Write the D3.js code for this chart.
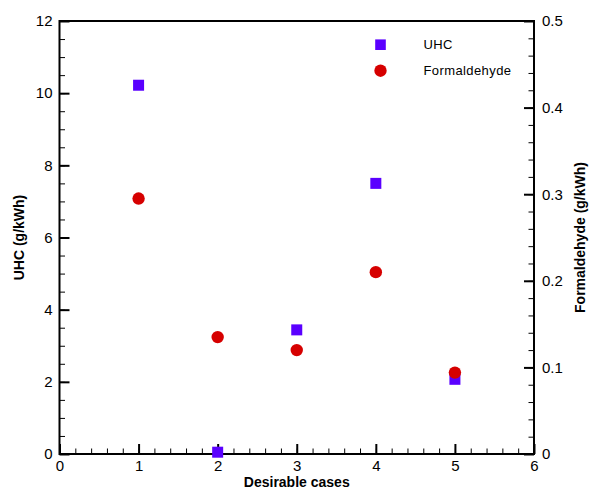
<!DOCTYPE html>
<html>
<head>
<meta charset="utf-8">
<script src="https://cdn.jsdelivr.net/npm/d3@7"></script>
<style>
  body { margin: 0; background: #fff; }
  svg { display: block; font-family: Arial, "Liberation Sans", sans-serif; }
</style>
</head>
<body>
<div id="my_dataviz"></div>
<script>
// data
var cases = [1, 2, 3, 4, 5];
var uhc = [10.22, 0.05, 3.44, 7.50, 2.07];            // g/kWh, left axis
var formaldehyde = [0.295, 0.135, 0.120, 0.210, 0.094]; // g/kWh, right axis
var xTicks = [0, 1, 2, 3, 4, 5, 6];
var yLeftTicks = [0, 2, 4, 6, 8, 10, 12];
var yRightTicks = [0, 0.1, 0.2, 0.3, 0.4, 0.5];

var W = 590, H = 488;
var margin = {top: 21, right: 56, bottom: 34, left: 59.5},
    width = 534 - margin.left,
    height = 454 - margin.top;

var blue = "#5a00ff", red = "#d60000";

var svg = d3.select("#my_dataviz")
  .append("svg")
  .attr("width", W)
  .attr("height", H)
  .append("g")
  .attr("transform", "translate(" + margin.left + "," + margin.top + ")");

var x = d3.scaleLinear().domain([0, 6]).range([0, width]);
var yL = d3.scaleLinear().domain([0, 12]).range([height, 0]);
var yR = d3.scaleLinear().domain([0, 0.5]).range([height, 0]);

// minor ticks
function minors(lo, hi, step) {
  var out = [];
  var n = Math.round((hi - lo) / step);
  for (var i = 0; i <= n; i++) out.push(lo + i * step);
  return out;
}

svg.append("g").attr("class", "minor")
  .attr("transform", "translate(0," + height + ")")
  .call(d3.axisBottom(x).tickValues(minors(0, 6, 0.2)).tickSize(-5.5).tickFormat(""));
svg.append("g").attr("class", "minor")
  .call(d3.axisLeft(yL).tickValues(minors(0, 12, 0.5)).tickSize(-5.5).tickFormat(""));
svg.append("g").attr("class", "minor")
  .attr("transform", "translate(" + width + ",0)")
  .call(d3.axisRight(yR).tickValues(minors(0, 0.5, 0.02)).tickSize(-5.5).tickFormat(""));

// major ticks + labels
svg.append("g").attr("class", "major")
  .attr("transform", "translate(0," + height + ")")
  .call(d3.axisBottom(x).tickValues(xTicks).tickSize(-10).tickPadding(6).tickFormat(d3.format("d")));
svg.append("g").attr("class", "major")
  .call(d3.axisLeft(yL).tickValues(yLeftTicks).tickSize(-10).tickPadding(7).tickFormat(d3.format("d")));
svg.append("g").attr("class", "major")
  .attr("transform", "translate(" + width + ",0)")
  .call(d3.axisRight(yR).tickValues(yRightTicks).tickSize(-10).tickPadding(8)
    .tickFormat(function(d) { return d === 0 ? "0" : d3.format(".1f")(d); }));

svg.selectAll(".minor .domain, .major .domain").remove();
svg.selectAll(".minor line").attr("stroke", "#000").attr("stroke-width", 1);
svg.selectAll(".major line").attr("stroke", "#000").attr("stroke-width", 2);
svg.selectAll(".major text").style("font-size", "15px").attr("fill", "#000");

// frame
svg.append("rect")
  .attr("x", 0).attr("y", 0)
  .attr("width", width).attr("height", height)
  .attr("fill", "none")
  .attr("stroke", "#000")
  .attr("stroke-width", 2);

// UHC squares
var sq = 11;
svg.selectAll(".uhc")
  .data(cases)
  .enter().append("rect")
  .attr("class", "uhc")
  .attr("x", function(d) { return x(d) - sq / 2; })
  .attr("y", function(d, i) { return yL(uhc[i]) - sq / 2; })
  .attr("width", sq).attr("height", sq)
  .attr("fill", blue);

// Formaldehyde circles
svg.selectAll(".form")
  .data(cases)
  .enter().append("circle")
  .attr("class", "form")
  .attr("cx", function(d) { return x(d); })
  .attr("cy", function(d, i) { return yR(formaldehyde[i]); })
  .attr("r", 6.2)
  .attr("fill", red);

// axis titles
svg.append("text")
  .attr("x", width / 2)
  .attr("y", 486.5 - margin.top)
  .attr("text-anchor", "middle")
  .style("font-size", "14px")
  .style("font-weight", "bold")
  .text("Desirable cases");

svg.append("text")
  .attr("transform", "translate(" + (23.5 - margin.left) + "," + (height / 2) + ") rotate(-90)")
  .attr("text-anchor", "middle")
  .style("font-size", "14px")
  .style("font-weight", "bold")
  .text("UHC (g/kWh)");

svg.append("text")
  .attr("transform", "translate(" + (585 - margin.left) + "," + (height / 2) + ") rotate(-90)")
  .attr("text-anchor", "middle")
  .style("font-size", "14px")
  .style("font-weight", "bold")
  .text("Formaldehyde (g/kWh)");

// legend
var legend = svg.append("g")
  .attr("transform", "translate(" + (380.5 - margin.left) + "," + (44.7 - margin.top) + ")");
legend.append("rect")
  .attr("x", -5.3).attr("y", -5.3).attr("width", 10.6).attr("height", 10.6)
  .attr("fill", blue);
legend.append("circle")
  .attr("cx", 0).attr("cy", 26).attr("r", 6.2)
  .attr("fill", red);
legend.append("text")
  .attr("x", 43).attr("y", 4.5)
  .style("font-size", "13px")
  .style("letter-spacing", "0.4px")
  .text("UHC");
legend.append("text")
  .attr("x", 43).attr("y", 30.5)
  .style("font-size", "13px")
  .style("letter-spacing", "0.4px")
  .text("Formaldehyde");
</script>
</body>
</html>
